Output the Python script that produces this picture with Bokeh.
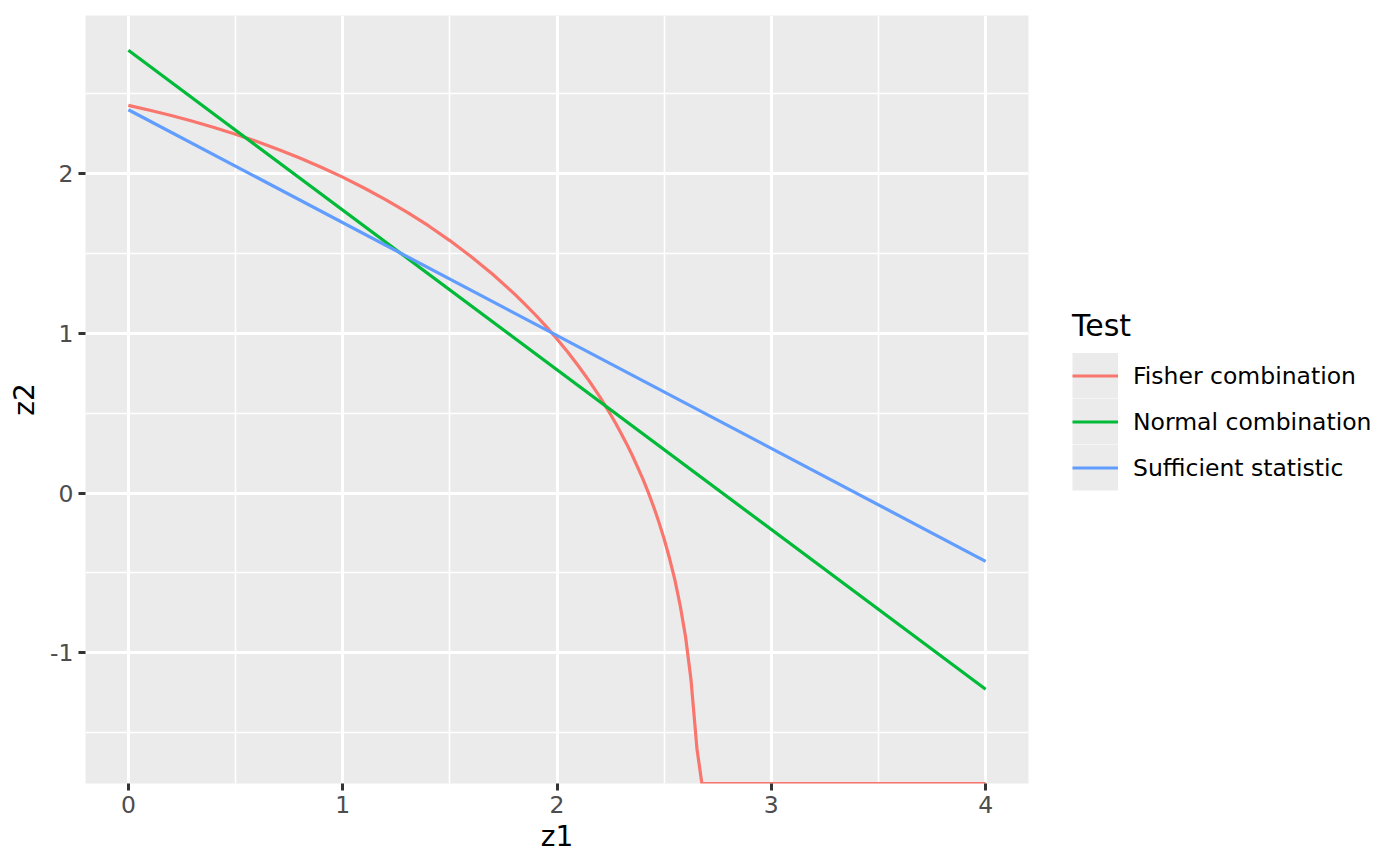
import numpy as np
from bokeh.plotting import figure
from bokeh.models import Range1d, FixedTicker, Legend, LegendItem
from bokeh.embed import file_html
from bokeh.resources import INLINE

# ---------------- data ----------------
series_names = ["Fisher combination", "Normal combination", "Sufficient statistic"]
series_colors = ["#F8766D", "#00BA38", "#619CFF"]

fisher_z1 = [0.0, 0.1, 0.2, 0.3, 0.4, 0.5, 0.6, 0.7, 0.8, 0.9, 1.0, 1.1, 1.2, 1.3,
             1.4, 1.5, 1.6, 1.7, 1.8, 1.85, 1.9, 1.95, 2.0, 2.05, 2.1, 2.15, 2.2,
             2.25, 2.275, 2.3, 2.325, 2.35, 2.375, 2.4, 2.425, 2.45, 2.475, 2.5,
             2.525, 2.55, 2.575, 2.6, 2.625, 2.653, 2.676, 4.0]
fisher_z2 = [2.427, 2.397, 2.364, 2.328, 2.289, 2.247, 2.201, 2.151, 2.098, 2.040,
             1.978, 1.910, 1.837, 1.759, 1.674, 1.581, 1.480, 1.370, 1.249, 1.183,
             1.115, 1.042, 0.965, 0.883, 0.796, 0.703, 0.602, 0.492, 0.434, 0.372,
             0.308, 0.240, 0.166, 0.090, 0.008, -0.082, -0.180, -0.287, -0.408,
             -0.543, -0.705, -0.901, -1.165, -1.600, -1.818, -1.818]

normal_z1 = [0.0, 4.0]
normal_z2 = [2.772, -1.228]

suff_z1 = [0.0, 4.0]
suff_z2 = [2.400, -0.427]

x_ticks = [0, 1, 2, 3, 4]
x_minor = [0.5, 1.5, 2.5, 3.5]
y_ticks = [-1, 0, 1, 2]
y_minor = [-1.5, -0.5, 0.5, 1.5, 2.5]
y_tick_labels = {-1: "-1", 0: "0", 1: "1", 2: "2"}

x_range = (-0.2, 4.2)
y_range = (-1.818, 2.99)

legend_title = "Test"
x_title = "z1"
y_title = "z2"

FONT = "DejaVu Sans"
TICK_SIZE = "23.5px"
TITLE_SIZE = "28px"
LEG_TITLE_SIZE = "30px"
KEY = 46

# ---------------- main plot ----------------
p = figure(frame_width=943, frame_height=768,
           x_range=Range1d(*x_range), y_range=Range1d(*y_range),
           output_backend="svg", toolbar_location=None,
           min_border_left=85, min_border_right=358,
           min_border_top=15, min_border_bottom=75)
p.background_fill_color = "#EBEBEB"
p.border_fill_color = "white"
p.outline_line_color = None

p.xaxis.ticker = FixedTicker(ticks=x_ticks, minor_ticks=x_minor)
p.yaxis.ticker = FixedTicker(ticks=y_ticks, minor_ticks=y_minor)
p.yaxis.major_label_overrides = y_tick_labels

for ax in (p.xaxis, p.yaxis):
    ax.axis_line_color = None
    ax.minor_tick_line_color = None
    ax.major_tick_line_color = "#333333"
    ax.major_tick_line_width = 3
    ax.major_tick_in = 0
    ax.major_tick_out = 7
    ax.major_label_text_font = FONT
    ax.major_label_text_font_size = TICK_SIZE
    ax.major_label_text_color = "#4D4D4D"
    ax.axis_label_text_font = FONT
    ax.axis_label_text_font_size = TITLE_SIZE
    ax.axis_label_text_font_style = "normal"
    ax.axis_label_text_color = "black"
    ax.major_label_standoff = 5

p.xaxis.axis_label_standoff = 4
p.yaxis.axis_label_standoff = 6
p.xaxis.axis_label = x_title
p.yaxis.axis_label = y_title
p.yaxis.major_label_orientation = "horizontal"

for g in (p.xgrid, p.ygrid):
    g.grid_line_color = "white"
    g.grid_line_width = 3
    g.minor_grid_line_color = "white"
    g.minor_grid_line_width = 1.6

# grey key background used only by the legend (a single NaN point: nothing drawn in the panel)
key_bg = p.line(x=np.array([np.nan]), y=np.array([np.nan]), line_color="#EBEBEB",
                line_width=KEY, line_cap="butt")

items = []
xs = [fisher_z1, normal_z1, suff_z1]
ys = [fisher_z2, normal_z2, suff_z2]
for name, x, y, c in zip(series_names, xs, ys, series_colors):
    r = p.line(x, y, line_color=c, line_width=3.2)
    items.append(LegendItem(label=name, renderers=[key_bg, r]))

legend = Legend(items=items, title=legend_title, location="center_left",
                orientation="vertical")
legend.margin = 44
legend.padding = 0
legend.spacing = 0
legend.glyph_width = KEY
legend.glyph_height = KEY
legend.label_standoff = 15
legend.label_text_font = FONT
legend.label_text_font_size = TICK_SIZE
legend.label_text_color = "black"
legend.label_text_baseline = "middle"
legend.title_text_font = FONT
legend.title_text_font_size = LEG_TITLE_SIZE
legend.title_text_font_style = "normal"
legend.title_text_color = "black"
legend.title_standoff = 10
legend.border_line_color = None
legend.background_fill_alpha = 0
legend.click_policy = "none"
p.add_layout(legend, "right")

open("out.html", "w").write(file_html(p, INLINE))
